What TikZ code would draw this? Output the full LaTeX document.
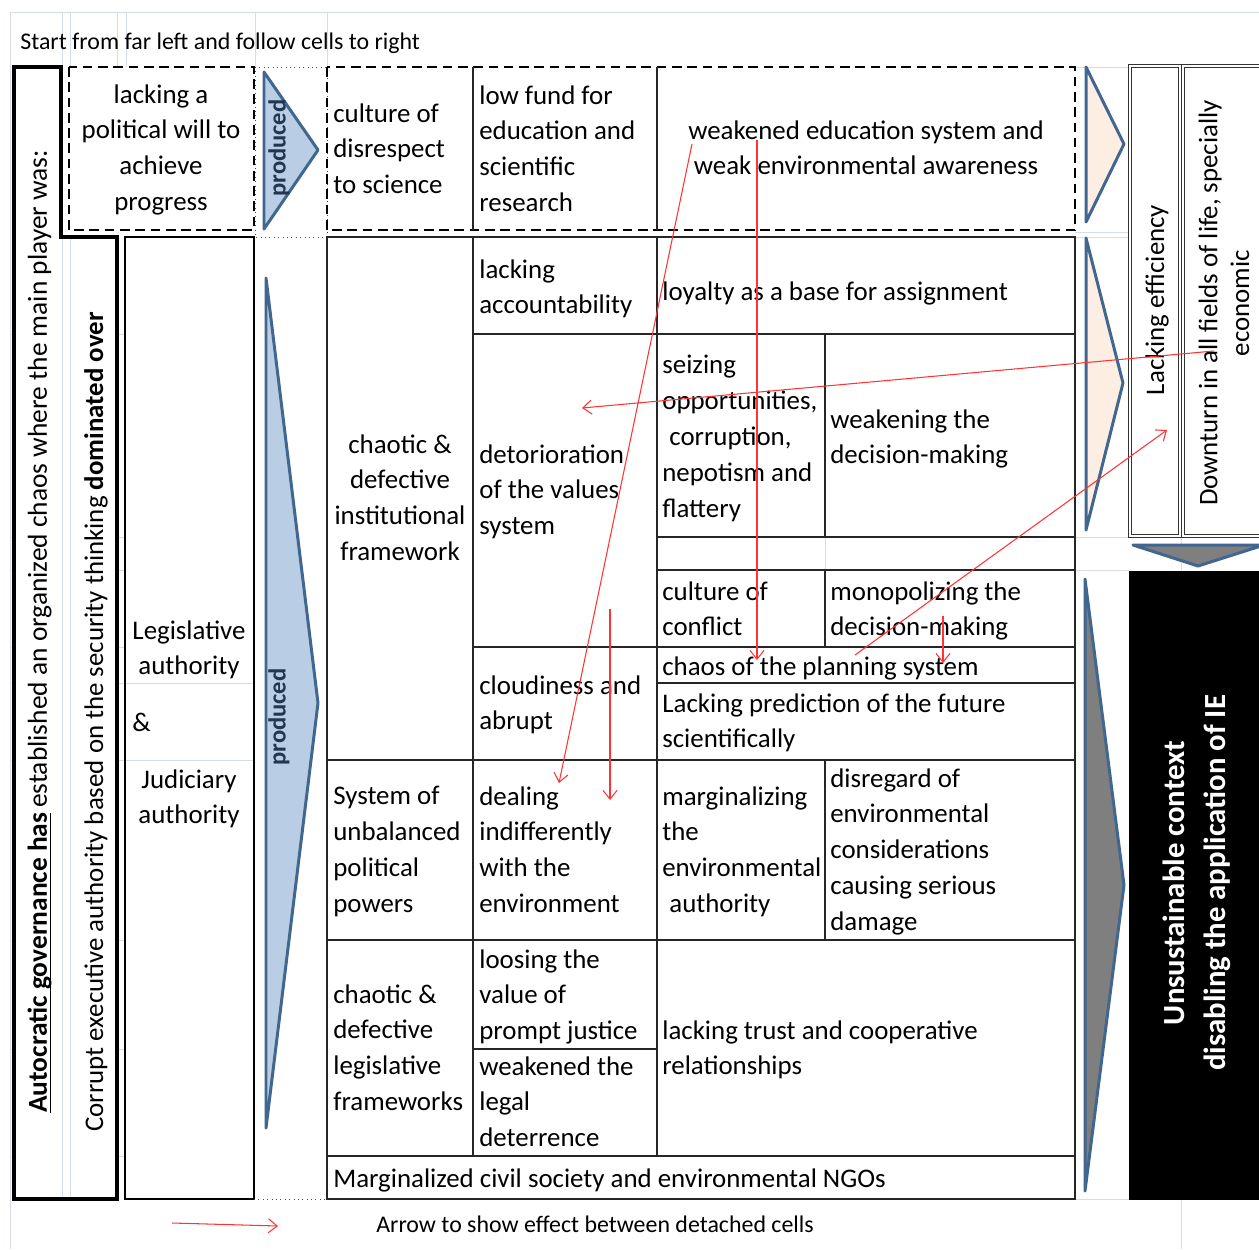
\documentclass[tikz,border=0pt]{standalone}
\usepackage{fontspec}
\setmainfont{Carlito}
\usetikzlibrary{arrows.meta}

\definecolor{arrowline}{HTML}{41668F}
\definecolor{arrowblue}{HTML}{B9CDE5}
\definecolor{arrowpeach}{HTML}{FDEEE3}
\definecolor{arrowgray}{HTML}{7F7F7F}
\definecolor{gridfaint}{HTML}{D6DCE8}
\definecolor{effectred}{HTML}{FF3333}
\definecolor{prodtext}{HTML}{223652}
\definecolor{tabline}{HTML}{262626}

\newcommand\cellfont{\fontsize{15.3}{20.4}\selectfont}
\newcommand\notefont{\fontsize{13.6}{16}\selectfont}
\newcommand\ulin[1]{\setbox0=\hbox{#1}\rlap{\rule[-2.4pt]{\wd0}{0.8pt}}\box0}

\begin{document}
\begin{tikzpicture}[x=0.02cm,y=-0.02cm,
  cell/.style={anchor=north west, inner sep=0pt, yshift=-4pt, align=left, font=\cellfont, execute at begin node=\strut},
  ccell/.style={cell, anchor=north, align=center},
  vlabel/.style={rotate=90, inner sep=0pt, font=\cellfont},
  prodlabel/.style={rotate=90, inner sep=0pt, text=prodtext, font=\fontsize{14}{16}\selectfont\bfseries},
  gridln/.style={draw=gridfaint, line width=0.5pt},
  inner/.style={draw=tabline, line width=0.8pt},
  outer/.style={draw=tabline, line width=1.5pt},
  dashbox/.style={draw=black, line width=1.2pt, dash pattern=on 5.5pt off 3.2pt},
  dotbox/.style={draw=black!70, line width=0.5pt, dotted},
  chevron/.style={draw=arrowline, line width=1.7pt, line join=round},
  effect/.style={draw=effectred, line width=0.6pt, -{Straight Barb[length=5pt,width=8pt]}},
  dblbox/.style={draw=black!80, double, double distance=1.3pt, line width=0.5pt}
]
% page
\fill[white] (0,0) rectangle (1259,1249);
\useasboundingbox (0,0) rectangle (1259,1249);
\begin{scope}
\clip (0,0) rectangle (1259,1249);

% faint spreadsheet grid
\draw[gridln] (10,12) -- (1259,12);
\draw[gridln] (10,12) -- (10,1249);
\foreach \gx in {62,70,117,126,255,327} \draw[gridln] (\gx,12) -- (\gx,67);
\draw[gridln] (62,237) -- (62,1199);
\draw[gridln] (70,237) -- (70,1199);
\foreach \gy in {334,537,570,647,683,760,940,1049,1156} {
  \draw[gridln] (10,\gy) -- (14,\gy);
  \draw[gridln] (117,\gy) -- (125,\gy);
}
\foreach \gy in {67,232,237,537,570,1199} \draw[gridln] (1075,\gy) -- (1129,\gy);
\draw[gridln] (1129,537) -- (1259,537);
\draw[gridln] (1181,537) -- (1181,570);
\draw[gridln] (1181,1199) -- (1181,1249);
\draw[gridln] (125,683) -- (254,683);
\draw[gridln] (125,760) -- (254,760);
\draw[gridln] (825,537) -- (825,570);

% title
\node[anchor=base west, inner sep=0pt, font=\notefont] (title) at (20,49)
  {Start from far left and follow cells to right};

% governance frame (stepped outline)
\draw[draw=black, line width=2.3pt, line join=miter]
  (14,67) -- (61,67) -- (61,237) -- (117,237) -- (117,1199) -- (14,1199) -- cycle;
\node[vlabel, anchor=base west, font=\fontsize{15.6}{18}\selectfont] (autocratic) at (47,1113)
  {\ulin{\textbf{Autocratic governance has}}\,established an organized chaos where the main player was:};
\node[vlabel, anchor=base west] (corrupt) at (103,1132)
  {Corrupt executive authority based on the security thinking \textbf{dominated over}};

% authorities column
\draw[draw=black, line width=1.3pt] (125,237) rectangle (254,1199);
\node[ccell] (legis) at (189,613) {Legislative\\authority};
\node[cell] (amp) at (132,699) {\&};
\node[ccell] (judic) at (189,762) {Judiciary\\authority};

% upper dashed row
\draw[dashbox] (69,67) rectangle (254,230);
\node[ccell] (will) at (161,77) {lacking a\\political will to\\achieve\\progress};
\draw[dotbox] (255,67) rectangle (327,237);
\draw[dotbox] (254,1199) -- (327,1199);
\draw[chevron, fill=arrowblue] (264,72) -- (318,150) -- (264,229) -- cycle;
\node[prodlabel] (prod1) at (279,148) {produced};
\draw[dashbox] (327,67) rectangle (1075,230);
\draw[inner] (473,67) -- (473,230);
\draw[inner] (657,67) -- (657,230);
\node[cell] (disrespect) at (333,96) {culture of\\disrespect\\to science};
\node[cell] (lowfund) at (479,78) {low fund for\\education and\\scientific\\research};
\node[ccell] (weakedu) at (866,113) {weakened education system and\\weak environmental awareness};

% lower produced arrow
\draw[chevron, fill=arrowblue] (266,278) -- (318,703) -- (266,1128) -- cycle;
\node[prodlabel] (prod2) at (279,717) {produced};

% main table
\draw[inner] (473,237) -- (473,1156);
\draw[inner] (657,237) -- (657,1156);
\draw[inner] (825,334) -- (825,537);
\draw[inner] (825,570) -- (825,647);
\draw[inner] (825,760) -- (825,940);
\draw[inner] (473,334) -- (1075,334);
\draw[inner] (657,537) -- (1075,537);
\draw[inner] (657,570) -- (1075,570);
\draw[inner] (473,647) -- (1075,647);
\draw[inner] (657,683) -- (1075,683);
\draw[inner] (327,760) -- (1075,760);
\draw[inner] (327,940) -- (1075,940);
\draw[inner] (473,1049) -- (657,1049);
\draw[inner] (327,1156) -- (1075,1156);
\draw[outer] (327,237) rectangle (1075,1199);

\node[ccell] (instit) at (400,427) {chaotic \&\\defective\\institutional\\framework};
\node[cell] (account) at (479,252) {lacking\\accountability};
\node[cell] (loyalty) at (662,268) {loyalty as a base for assignment};
\node[cell] (values) at (479,437) {detorioration\\of the values\\system};
\node[cell] (seizing) at (662,348) {seizing\\opportunities,\\\hspace*{4pt}corruption,\\nepotism and\\flattery};
\node[cell] (weakdec) at (830,402) {weakening the\\decision-making};
\node[cell] (conflict) at (662,574) {culture of\\conflict};
\node[cell] (monopol) at (830,574) {monopolizing the\\decision-making};
\node[cell] (planning) at (662,643) {chaos of the planning system};
\node[cell] (predict) at (662,686) {Lacking prediction of the future\\scientifically};
\node[cell] (cloud) at (479,668) {cloudiness and\\abrupt};
\node[cell] (unbal) at (333,779) {System of\\unbalanced\\political\\powers};
\node[cell] (indiff) at (479,779) {dealing\\indifferently\\with the\\environment};
\node[cell] (margauth) at (662,779) {marginalizing\\the\\environmental\\\hspace*{4pt}authority};
\node[cell] (disregard) at (830,761) {disregard of\\environmental\\considerations\\causing serious\\damage};
\node[cell] (legfw) at (333,977) {chaotic \&\\defective\\legislative\\frameworks};
\node[cell] (justice) at (479,942) {loosing the\\value of\\prompt justice};
\node[cell] (deter) at (479,1049) {weakened the\\legal\\deterrence};
\node[cell] (trust) at (662,1013) {lacking trust and cooperative\\relationships};
\node[cell] (ngo) at (333,1155) {Marginalized civil society and environmental NGOs};

% right-hand arrows
\draw[chevron, fill=arrowpeach] (1086,67) -- (1124,144) -- (1086,222) -- cycle;
\draw[chevron, fill=arrowpeach] (1086,238) -- (1123,383) -- (1086,530) -- cycle;
\draw[chevron, fill=arrowgray] (1085,579) -- (1124,885) -- (1085,1191) -- cycle;
\draw[chevron, fill=arrowgray] (1133,545) -- (1264,545) -- (1198,566) -- cycle;

% outcome boxes
\draw[dblbox] (1130,66) rectangle (1180,536);
\draw[dblbox] (1183,66) rectangle (1270,536);
\node[vlabel] (effic) at (1157,300) {Lacking efficiency};
\node[vlabel, align=center, font=\fontsize{15.3}{18.1}\selectfont] (downturn) at (1224,303)
  {Downturn in all fields of life, specially\\economic};
\fill[black] (1129,571) rectangle (1270,1200);
\node[rotate=90, inner sep=0pt, align=center, text=white,
      font=\fontsize{17.5}{23.2}\selectfont\bfseries] (context) at (1197,883)
  {Unsustainable context\\disabling the application of IE};

% effects between detached cells
\coordinate (e1s) at (692,144);  \coordinate (e1e) at (559,783);
\coordinate (e2s) at (757,140);  \coordinate (e2e) at (757,660);
\coordinate (e3s) at (610,609);  \coordinate (e3e) at (610,800);
\coordinate (e4s) at (1214,351); \coordinate (e4e) at (582,408);
\coordinate (e5s) at (855,655);  \coordinate (e5e) at (1167,430);
\coordinate (e6s) at (943,616);  \coordinate (e6e) at (943,663);
\draw[effect] (e1s) -- (e1e);
\draw[effect] (e2s) -- (e2e);
\draw[effect] (e3s) -- (e3e);
\draw[effect] (e4s) -- (e4e);
\draw[effect] (e5s) -- (e5e);
\draw[effect] (e6s) -- (e6e);

% legend
\coordinate (legs) at (172,1223);
\coordinate (lege) at (278,1226);
\draw[effect] (legs) -- (lege);
\node[anchor=base west, inner sep=0pt, font=\notefont] (legend) at (376,1232)
  {Arrow to show effect between detached cells};
\end{scope}
\end{tikzpicture}
\end{document}
